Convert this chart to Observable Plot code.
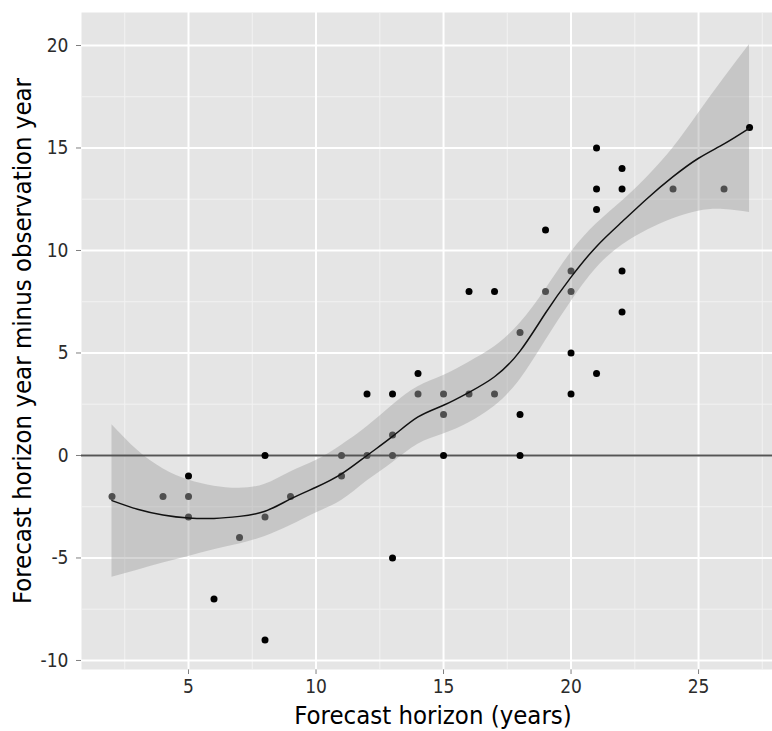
<!DOCTYPE html>
<html>
<head>
<meta charset="utf-8">
<script src="https://cdn.jsdelivr.net/npm/d3@7"></script>
<script src="https://cdn.jsdelivr.net/npm/@observablehq/plot@0.6"></script>
<style>
  html, body { margin: 0; padding: 0; background: #ffffff; }
  #chart svg { font-family: "DejaVu Sans Condensed", "DejaVu Sans", sans-serif; font-stretch: condensed; }
</style>
</head>
<body>
<div id="chart"></div>
<script>
// Observations: forecast horizon (years) and forecast-horizon-year minus observation-year
const horizon = [2, 4, 5, 5, 5, 6, 7, 8, 8, 8, 9, 11, 11, 12, 12, 13, 13, 13, 13, 14, 14, 15, 15, 15,
                 16, 16, 17, 17, 18, 18, 18, 19, 19, 20, 20, 20, 20, 21, 21, 21, 21, 22, 22, 22, 22, 24, 26, 27];
const diff    = [-2, -2, -1, -2, -3, -7, -4, 0, -3, -9, -2, 0, -1, 3, 0, 3, 1, 0, -5, 4, 3, 3, 2, 0,
                 8, 3, 8, 3, 6, 2, 0, 11, 8, 9, 8, 5, 3, 15, 13, 12, 4, 14, 13, 9, 7, 13, 13, 16];
const shade   = ["g","g","k","g","g","k","g","k","g","k","g","g","g","k","g","k","g","g","k","k","g","g","g","k",
                 "k","g","k","g","g","k","k","k","g","g","g","k","k","k","k","k","k","k","k","k","k","g","g","k"];

// Smoothed fit and its confidence band
const fitX  = [2, 3, 4, 5, 6, 7, 8, 9, 10, 11, 12, 13, 14, 15, 16, 17, 18, 19, 20, 21, 22, 23, 24, 25, 26, 27];
const fitY  = [-2.2, -2.62, -2.9, -3.05, -3.07, -2.97, -2.72, -2.12, -1.55, -0.9, 0.0, 0.93, 1.88, 2.45,
               3.08, 3.84, 5.09, 6.95, 8.7, 10.2, 11.4, 12.55, 13.6, 14.5, 15.2, 15.97];
const fitLo = [-5.94, -5.6, -5.25, -4.93, -4.6, -4.32, -3.95, -3.42, -2.8, -2.2, -1.25, -0.35, 0.55, 1.05,
               1.6, 2.4, 3.7, 5.6, 7.5, 9.15, 10.25, 11.0, 11.55, 11.92, 12.0, 11.85];
const fitHi = [1.5, 0.25, -0.65, -1.2, -1.5, -1.6, -1.4, -0.8, -0.25, 0.5, 1.4, 2.45, 3.35, 3.9,
               4.55, 5.3, 6.45, 8.1, 9.9, 11.3, 12.4, 13.6, 15.0, 16.7, 18.4, 20.05];

const xTicks = [5, 10, 15, 20, 25];
const yTicks = [-10, -5, 0, 5, 10, 15, 20];
const xMinor = [2.5, 7.5, 12.5, 17.5, 22.5, 27.5];
const yMinor = [-7.5, -2.5, 2.5, 7.5, 12.5, 17.5];
const xTitle = "Forecast horizon (years)";
const yTitle = "Forecast horizon year minus observation year";

const pts = horizon.map((x, i) => ({x, y: diff[i], g: shade[i]}));
const fit = fitX.map((x, i) => ({x, y: fitY[i], lo: fitLo[i], hi: fitHi[i]}));

const chart = Plot.plot({
  width: 772,
  height: 731,
  marginLeft: 81,
  marginRight: 0,
  marginTop: 12,
  marginBottom: 62,
  style: {fontFamily: "'DejaVu Sans Condensed', 'DejaVu Sans', sans-serif", fontSize: "19px", color: "#2b2b2b", background: "#ffffff", overflow: "visible"},
  x: {domain: [0.804, 27.9], ticks: xTicks, tickSize: 5, tickPadding: 5, label: null, tickFormat: d => String(d)},
  y: {domain: [-10.44, 21.61], ticks: yTicks, tickSize: 5, tickPadding: 8, label: null, tickFormat: d => String(d)},
  marks: [
    Plot.frame({fill: "#e5e5e5", stroke: null}),
    Plot.ruleX(xMinor, {stroke: "#f2f2f2", strokeWidth: 1}),
    Plot.ruleY(yMinor, {stroke: "#f2f2f2", strokeWidth: 1}),
    Plot.ruleX(xTicks, {stroke: "#ffffff", strokeWidth: 2}),
    Plot.ruleY(yTicks, {stroke: "#ffffff", strokeWidth: 2}),
    Plot.areaY(fit, {x: "x", y1: "lo", y2: "hi", fill: "#999999", fillOpacity: 0.4, curve: "natural"}),
    Plot.ruleY([0], {stroke: "#555555", strokeWidth: 2}),
    Plot.dot(pts, {x: "x", y: "y", r: 3.5, fill: d => d.g === "k" ? "#000000" : "#4f4f4f", stroke: null}),
    Plot.line(fit, {x: "x", y: "y", stroke: "#111111", strokeWidth: 1.5, curve: "natural"}),
    Plot.text([xTitle], {text: d => d, frameAnchor: "bottom", dx: 6, dy: 46, fontSize: 25.5, fill: "#000000", textAnchor: "middle", lineAnchor: "middle"}),
    Plot.text([yTitle], {text: d => d, frameAnchor: "left", dx: -59, rotate: -90, fontSize: 25.5, fill: "#000000", textAnchor: "middle", lineAnchor: "middle"})
  ]
});

d3.select(chart).selectAll('g[aria-label$="axis tick"]').attr("stroke", "#7f7f7f");
document.getElementById("chart").appendChild(chart);
</script>
</body>
</html>
